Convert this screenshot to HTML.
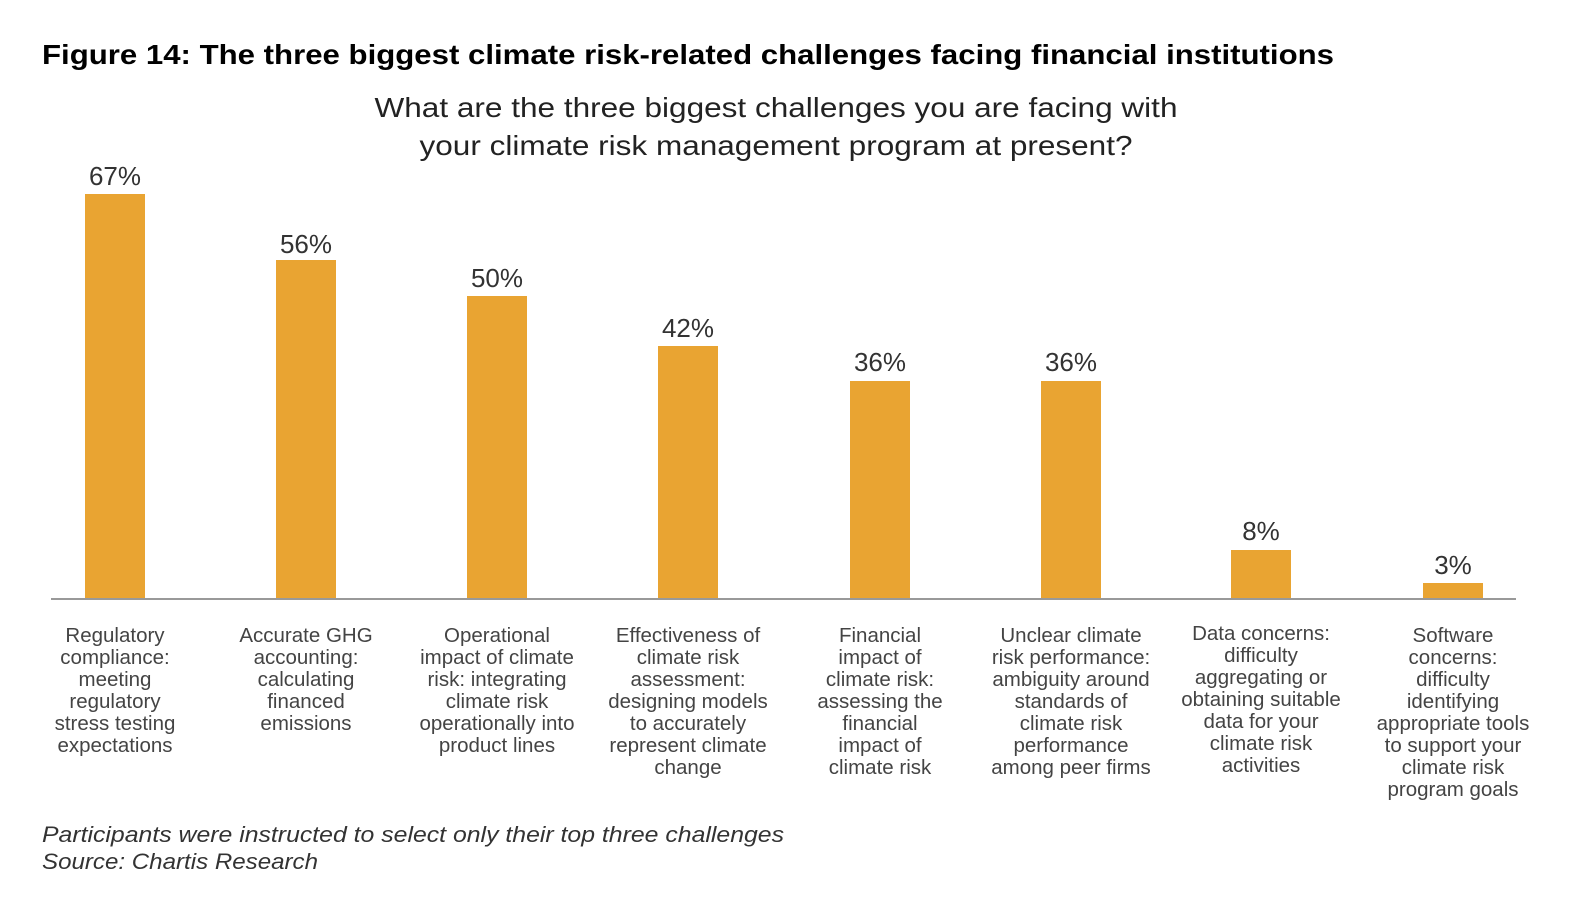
<!DOCTYPE html>
<html><head><meta charset="utf-8"><style>
html,body{margin:0;padding:0;background:#fff;width:1584px;height:924px;overflow:hidden}
svg{display:block}
text{font-family:"Liberation Sans",sans-serif}
</style></head><body>
<svg width="1584" height="924" viewBox="0 0 1584 924">
<text x="42" y="64" font-size="28" font-weight="bold" fill="#000" textLength="1292" lengthAdjust="spacingAndGlyphs">Figure 14: The three biggest climate risk-related challenges facing financial institutions</text>
<g font-size="28" fill="#222" text-anchor="middle">
<text x="776" y="117" textLength="803" lengthAdjust="spacingAndGlyphs">What are the three biggest challenges you are facing with</text>
<text x="776" y="155" textLength="713" lengthAdjust="spacingAndGlyphs">your climate risk management program at present?</text>
</g>
<g fill="#E9A432">
<rect x="85" y="194" width="60" height="404"/>
<rect x="276" y="260" width="60" height="338"/>
<rect x="467" y="296" width="60" height="302"/>
<rect x="658" y="346" width="60" height="252"/>
<rect x="850" y="381" width="60" height="217"/>
<rect x="1041" y="381" width="60" height="217"/>
<rect x="1231" y="550" width="60" height="48"/>
<rect x="1423" y="583" width="60" height="15"/>
</g>
<line x1="51" y1="599" x2="1516" y2="599" stroke="#999" stroke-width="2"/>
<g font-size="26" fill="#333" text-anchor="middle">
<text x="115" y="185">67%</text>
<text x="306" y="253">56%</text>
<text x="497" y="287">50%</text>
<text x="688" y="337">42%</text>
<text x="880" y="371">36%</text>
<text x="1071" y="371">36%</text>
<text x="1261" y="540">8%</text>
<text x="1453" y="574">3%</text>
</g>
<g font-size="20.5" fill="#444" text-anchor="middle">
<text x="115" y="642">Regulatory</text><text x="115" y="664">compliance:</text><text x="115" y="686">meeting</text><text x="115" y="708">regulatory</text><text x="115" y="730">stress testing</text><text x="115" y="752">expectations</text>
<text x="306" y="642">Accurate GHG</text><text x="306" y="664">accounting:</text><text x="306" y="686">calculating</text><text x="306" y="708">financed</text><text x="306" y="730">emissions</text>
<text x="497" y="642">Operational</text><text x="497" y="664">impact of climate</text><text x="497" y="686">risk: integrating</text><text x="497" y="708">climate risk</text><text x="497" y="730">operationally into</text><text x="497" y="752">product lines</text>
<text x="688" y="642">Effectiveness of</text><text x="688" y="664">climate risk</text><text x="688" y="686">assessment:</text><text x="688" y="708">designing models</text><text x="688" y="730">to accurately</text><text x="688" y="752">represent climate</text><text x="688" y="774">change</text>
<text x="880" y="642">Financial</text><text x="880" y="664">impact of</text><text x="880" y="686">climate risk:</text><text x="880" y="708">assessing the</text><text x="880" y="730">financial</text><text x="880" y="752">impact of</text><text x="880" y="774">climate risk</text>
<text x="1071" y="642">Unclear climate</text><text x="1071" y="664">risk performance:</text><text x="1071" y="686">ambiguity around</text><text x="1071" y="708">standards of</text><text x="1071" y="730">climate risk</text><text x="1071" y="752">performance</text><text x="1071" y="774">among peer firms</text>
<text x="1261" y="640">Data concerns:</text><text x="1261" y="662">difficulty</text><text x="1261" y="684">aggregating or</text><text x="1261" y="706">obtaining suitable</text><text x="1261" y="728">data for your</text><text x="1261" y="750">climate risk</text><text x="1261" y="772">activities</text>
<text x="1453" y="642">Software</text><text x="1453" y="664">concerns:</text><text x="1453" y="686">difficulty</text><text x="1453" y="708">identifying</text><text x="1453" y="730">appropriate tools</text><text x="1453" y="752">to support your</text><text x="1453" y="774">climate risk</text><text x="1453" y="796">program goals</text>
</g>
<g font-size="22" fill="#333" font-style="italic">
<text x="42" y="842" textLength="742" lengthAdjust="spacingAndGlyphs">Participants were instructed to select only their top three challenges</text>
<text x="42" y="869" textLength="276" lengthAdjust="spacingAndGlyphs">Source: Chartis Research</text>
</g>
</svg>
</body></html>
